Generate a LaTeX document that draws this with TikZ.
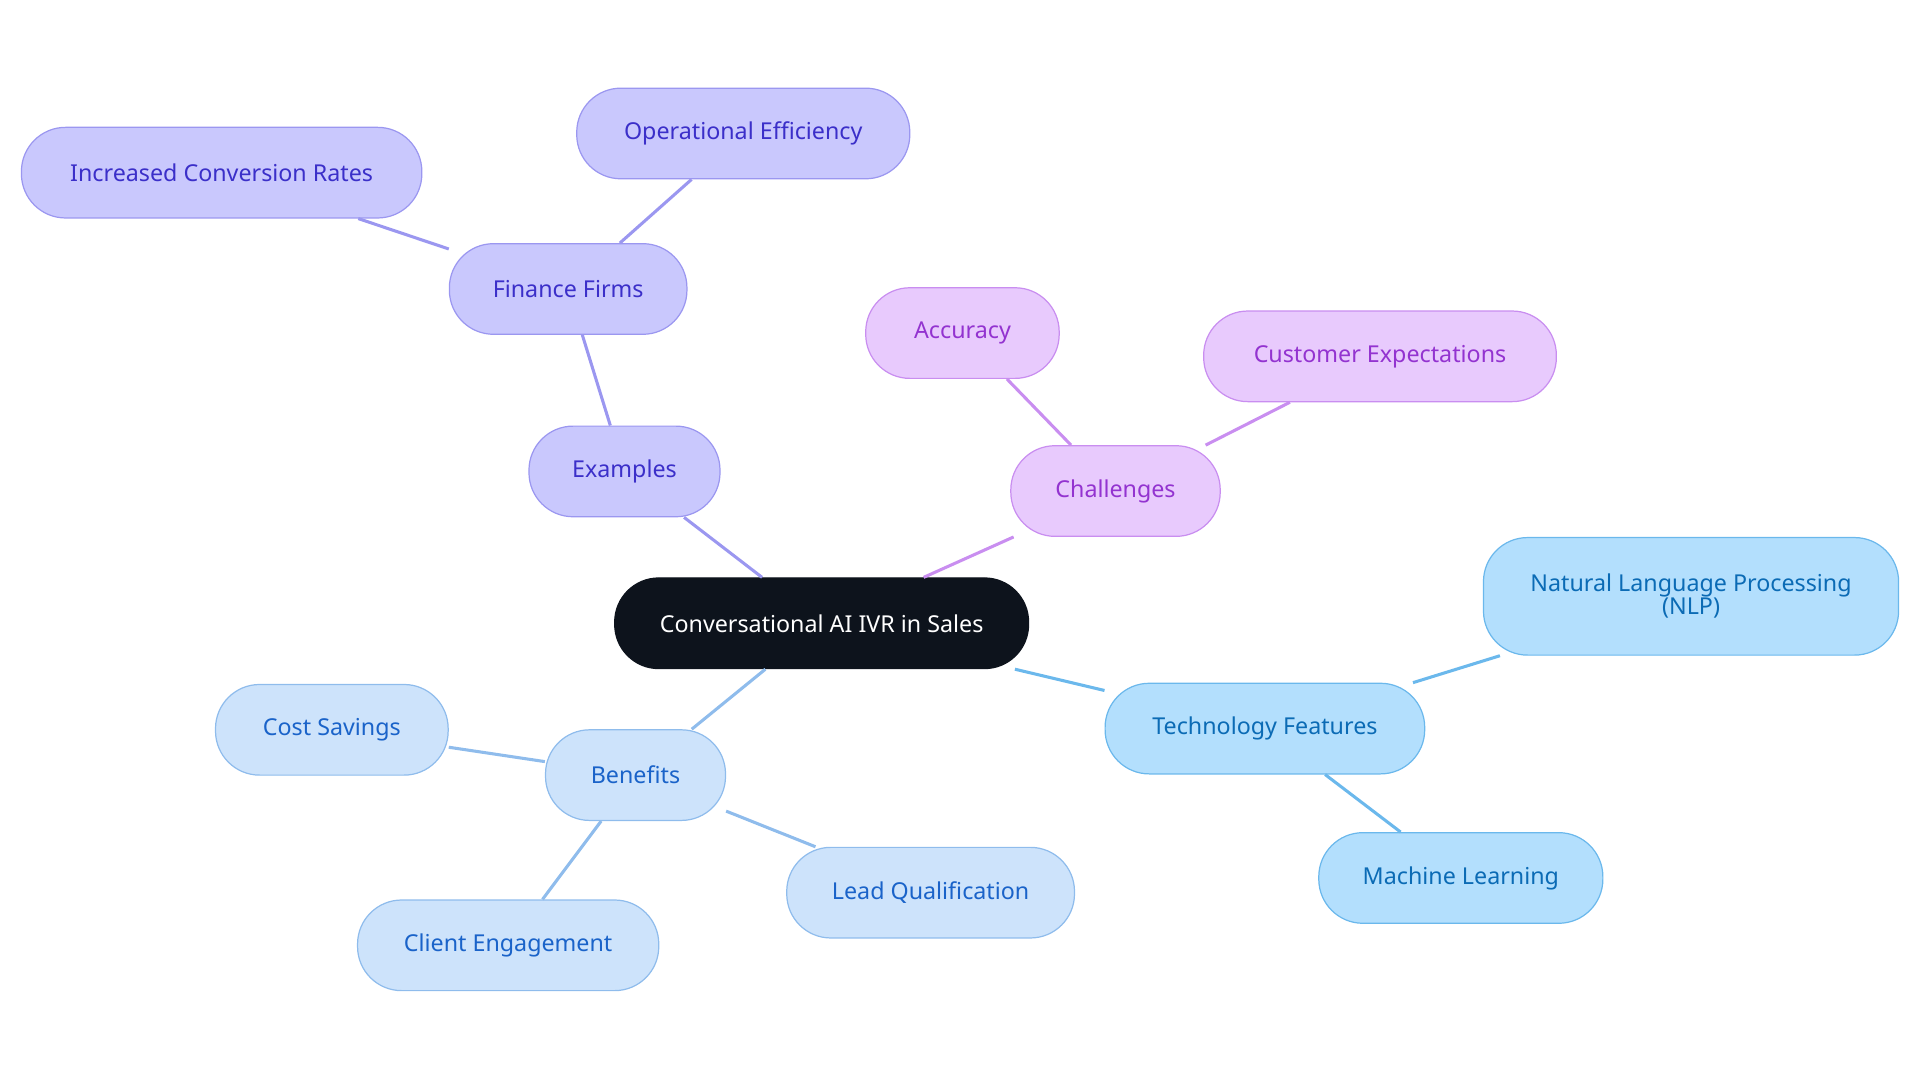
\documentclass[tikz,border=0pt]{standalone}
\usepackage{fontspec}
\setmainfont{Noto Sans}
\begin{document}
\begin{tikzpicture}[x=1pt,y=-1pt,
 base/.style={rounded corners=36pt,minimum height=74pt,draw,line width=1pt,font=\fontsize{19}{21}\selectfont,align=center,inner sep=0pt},
 pur/.style={base,fill=violet1,draw=violetb,text=violett},
 mag/.style={base,fill=mag1,draw=magb,text=magt},
 sky/.style={base,fill=sky1,draw=skyb,text=skyt},
 blu/.style={base,fill=blu1,draw=blub,text=blut},
 e/.style={line width=2.5pt}]
\definecolor{violet1}{HTML}{C9C8FD}\definecolor{violetb}{HTML}{9B97F0}\definecolor{violett}{HTML}{3B2FC9}
\definecolor{mag1}{HTML}{E8CAFD}\definecolor{magb}{HTML}{C98EF0}\definecolor{magt}{HTML}{9333D0}
\definecolor{sky1}{HTML}{B3DFFD}\definecolor{skyb}{HTML}{6BB8EC}\definecolor{skyt}{HTML}{0B6BB5}
\definecolor{blu1}{HTML}{CDE3FB}\definecolor{blub}{HTML}{8FBCEC}\definecolor{blut}{HTML}{1A63C9}
\definecolor{dark}{HTML}{0D131C}
\useasboundingbox (0,0) rectangle (1568,884);
\node[base,fill=dark,draw=dark,text=white,minimum width=338pt] (c) at (671,509) {Conversational AI IVR in Sales};
\node[pur,minimum width=156pt] (ex) at (510,385) {Examples};
\node[pur,minimum width=194pt] (ff) at (464,236) {Finance Firms};
\node[pur,minimum width=272pt] (oe) at (607,109) {Operational Efficiency};
\node[pur,minimum width=327pt] (ic) at (181,141) {Increased Conversion Rates};
\node[mag,minimum width=171pt] (ch) at (911,401) {Challenges};
\node[mag,minimum width=158pt] (ac) at (786,272) {Accuracy};
\node[mag,minimum width=288pt] (ce) at (1127,291) {Customer Expectations};
\node[sky,minimum width=261pt] (tf) at (1033,595) {Technology Features};
\node[sky,minimum width=339pt,minimum height=96pt,font=\fontsize{19}{19}\selectfont] (nlp) at (1381,487) {Natural Language Processing\\(NLP)};
\node[sky,minimum width=232pt] (ml) at (1193,717) {Machine Learning};
\node[blu,minimum width=147pt] (be) at (519,633) {Benefits};
\node[blu,minimum width=190pt] (cs) at (271,596) {Cost Savings};
\node[blu,minimum width=246pt] (cl) at (415,772) {Client Engagement};
\node[blu,minimum width=235pt] (lq) at (760,729) {Lead Qualification};
\begin{scope}[on background layer/.style={}]
\end{scope}
\begin{pgfinterruptboundingbox}\end{pgfinterruptboundingbox}
\draw[e,violetb] (c) -- (ex); \draw[e,violetb] (ex) -- (ff);
\draw[e,violetb] (ff) -- (oe); \draw[e,violetb] (ff) -- (ic);
\draw[e,magb] (c) -- (ch); \draw[e,magb] (ch) -- (ac); \draw[e,magb] (ch) -- (ce);
\draw[e,skyb] (c) -- (tf); \draw[e,skyb] (tf) -- (nlp); \draw[e,skyb] (tf) -- (ml);
\draw[e,blub] (c) -- (be); \draw[e,blub] (be) -- (cs); \draw[e,blub] (be) -- (cl); \draw[e,blub] (be) -- (lq);
\end{tikzpicture}
\end{document}
